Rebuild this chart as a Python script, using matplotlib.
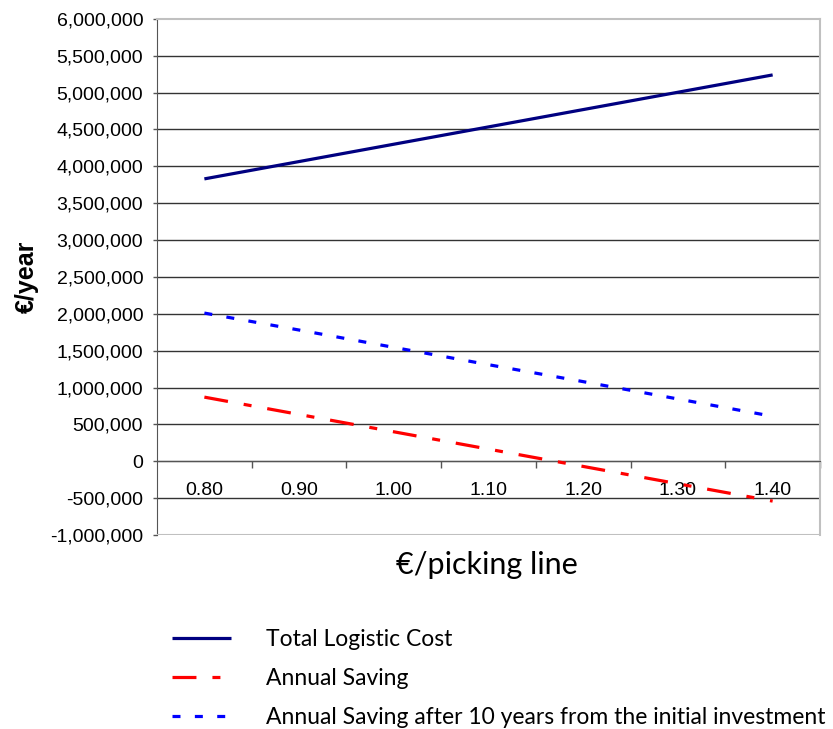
import numpy as np
import matplotlib.pyplot as plt
from matplotlib.ticker import FuncFormatter, FixedLocator

# €/picking line categories
labels = ['0.80', '0.90', '1.00', '1.10', '1.20', '1.30', '1.40']
total_cost = [3830000, 4065000, 4300000, 4535000, 4770000, 5005000, 5240000]
annual_saving = [870000, 635000, 400000, 165000, -70000, -305000, -540000]
saving_10y = [2010000, 1780000, 1545000, 1310000, 1080000, 845000, 610000]

x = np.arange(len(labels))

fig = plt.figure(figsize=(8.33, 7.29), dpi=100)
ax = fig.add_axes([0.1885, 0.2661, 0.7959, 0.708])

# horizontal grid
for v in np.arange(-500000, 6000000, 500000):
    ax.axhline(v, color='#333333', lw=1.0, zorder=1)
ax.axhline(-1000000, color='#c0c0c0', lw=1.5, zorder=3)

ax.plot(x, total_cost, color='#000080', lw=2.3, solid_capstyle='butt',
        label='Total Logistic Cost', zorder=4)
ax.plot(x, annual_saving, color='#ff0000', lw=2.3,
        linestyle=(0, (7.5, 5, 2.5, 5)), label='Annual Saving', zorder=4)
ax.plot(x, saving_10y, color='#0000ff', lw=2.3, linestyle=(0, (2.5, 4.5)),
        label='Annual Saving after 10 years from the initial investment', zorder=4)

ax.set_xlim(-0.5, len(labels) - 0.5)
ax.set_ylim(-1000000, 6000000)
ax.set_yticks(np.arange(-1000000, 6000001, 500000))
ax.yaxis.set_major_formatter(FuncFormatter(lambda v, p: f'{v:,.0f}'))

ax.spines['bottom'].set_position(('data', 0))
ax.spines['bottom'].set_color('#555555')
ax.spines['left'].set_color('#555555')
ax.spines['top'].set_color('#c0c0c0')
ax.spines['right'].set_color('#c0c0c0')
for s in ['top', 'right']:
    ax.spines[s].set_linewidth(1.5)

ax.set_xticks(x)
ax.set_xticklabels(labels)
ax.xaxis.set_minor_locator(FixedLocator(np.arange(0.5, len(labels), 1.0)))
ax.tick_params(axis='x', which='major', length=0, pad=15, labelsize=14)
ax.tick_params(axis='x', which='minor', length=5, width=1, color='#555555', direction='out')
ax.tick_params(axis='y', length=3, width=1, color='#555555', pad=7, labelsize=14)
for t in ax.get_xticklabels() + ax.get_yticklabels():
    t.set_fontfamily('Liberation Sans')

ax.set_ylabel('€/year', fontsize=18, fontweight='bold', family='Liberation Sans', labelpad=8)
fig.text(0.584, 0.225, '€/picking line', fontsize=22, family='Lato',
         ha='center', va='center')

fig.legend(loc='upper left', bbox_to_anchor=(0.195, 0.150), frameon=False,
           borderaxespad=0, prop={'family': 'Lato', 'size': 16.5},
           handlelength=2.6, handletextpad=1.5, labelspacing=0.8)

fig.savefig('out.png', dpi=100, facecolor='white')
